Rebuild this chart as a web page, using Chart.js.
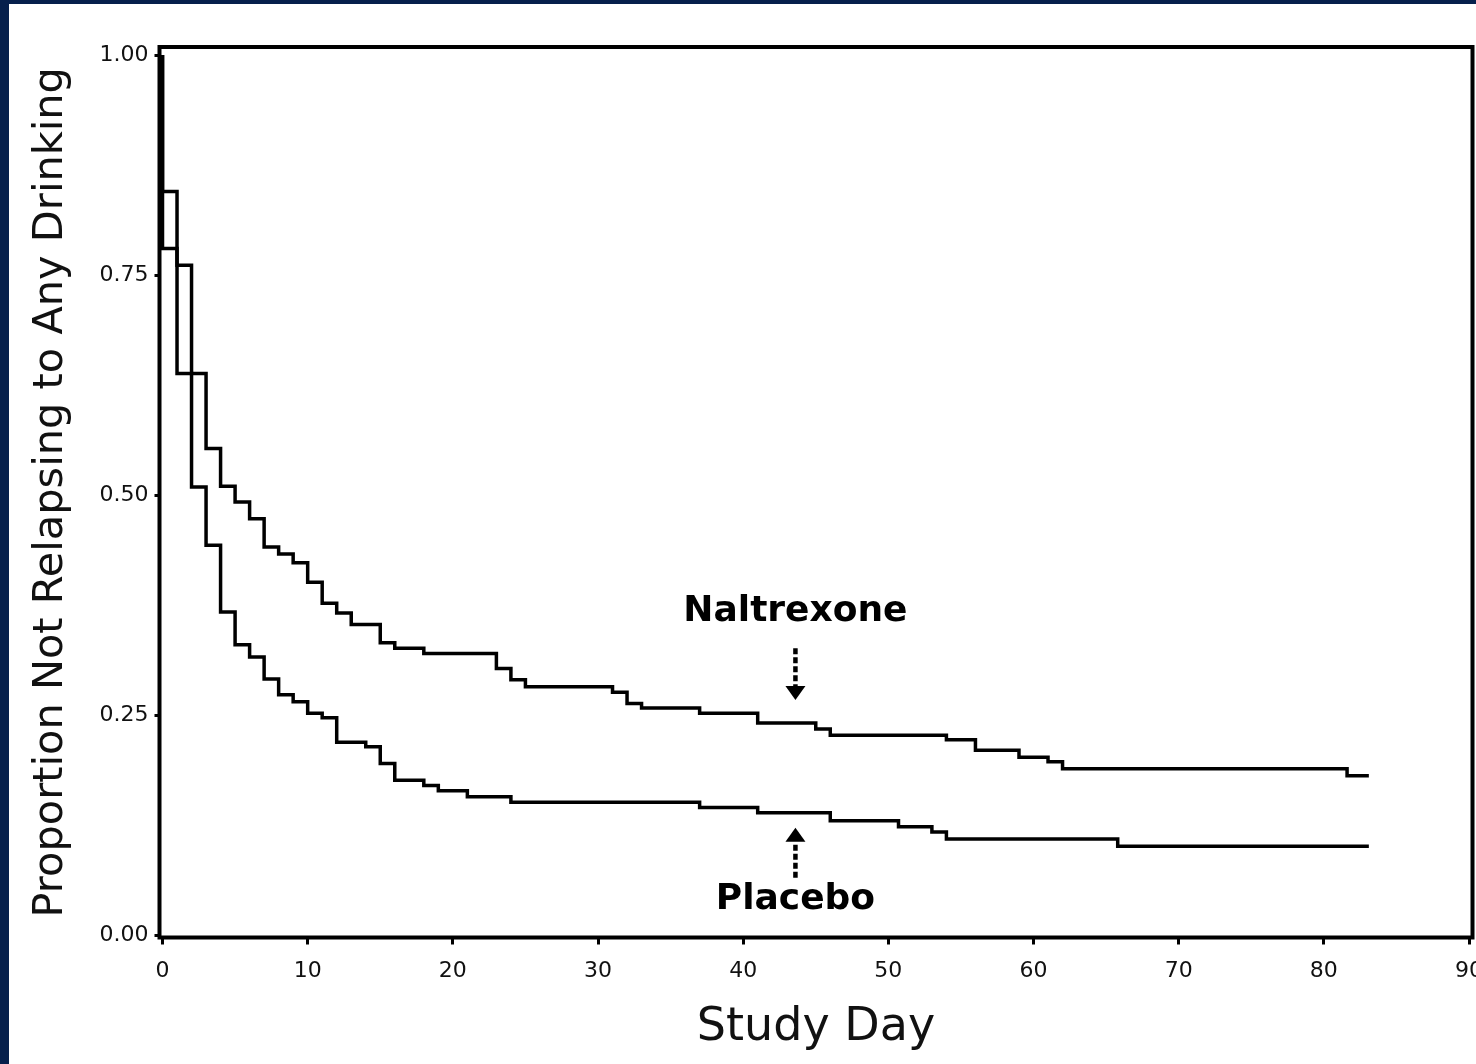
<!DOCTYPE html>
<html>
<head>
<meta charset="utf-8">
<title>Proportion Not Relapsing to Any Drinking</title>
<script src="https://cdn.jsdelivr.net/npm/chart.js@4/dist/chart.umd.min.js"></script>
<style>
  html, body { margin: 0; padding: 0; background: #fff; }
  .panel {
    position: absolute; left: 0; top: 0;
    width: 1476px; height: 1064px; box-sizing: border-box;
    border-left: 9px solid #06204c; border-top: 4px solid #06204c;
    background: #fff; overflow: hidden;
  }
  canvas { display: block; }
</style>
</head>
<body>
<div class="panel"><canvas id="kmChart" width="1467" height="1060"></canvas></div>
<script>
// Kaplan-Meier steps: study day of each drop and the proportion after it
const naltrexoneDays = [0, 0, 1, 2, 3, 4, 5, 6, 7, 8, 9, 10, 11, 12, 13, 15, 16, 18, 23, 24, 25, 31, 32, 33, 37, 41, 45, 46, 54, 56, 59, 61, 62, 81.6, 83.1];
const naltrexoneProp = [1.0, 0.845, 0.761, 0.638, 0.553, 0.510, 0.492, 0.473, 0.441, 0.433, 0.423, 0.401, 0.377, 0.366, 0.353, 0.332, 0.326, 0.320, 0.303, 0.290, 0.282, 0.276, 0.263, 0.258, 0.252, 0.241, 0.234, 0.227, 0.222, 0.210, 0.202, 0.197, 0.189, 0.181, 0.181];

const placeboDays = [0, 0, 1, 2, 3, 4, 5, 6, 7, 8, 9, 10, 11, 12, 14, 15, 16, 18, 19, 21, 24, 37, 41, 46, 50.7, 53, 54, 65.8, 83.1];
const placeboProp = [1.0, 0.78, 0.638, 0.509, 0.443, 0.367, 0.330, 0.316, 0.291, 0.273, 0.265, 0.252, 0.247, 0.219, 0.214, 0.195, 0.176, 0.170, 0.164, 0.157, 0.151, 0.145, 0.139, 0.130, 0.123, 0.117, 0.109, 0.101, 0.101];

const xTickValues = [0, 10, 20, 30, 40, 50, 60, 70, 80, 90];
const xTickLabels = ['0', '10', '20', '30', '40', '50', '60', '70', '80', '90'];
const yTickValues = [0, 0.25, 0.5, 0.75, 1];
const yTickLabels = ['0.00', '0.25', '0.50', '0.75', '1.00'];

// group labels with their dashed arrows
const calloutText = ['Naltrexone', 'Placebo'];
const calloutDay = [43.6, 43.6];
const calloutLabelAt = [0.367, 0.040];
const calloutTailAt = [0.326, 0.065];
const calloutTipAt = [0.267, 0.122];

const FONT = '"DejaVu Sans", Verdana, sans-serif';

const toPoints = (days, props) => days.map((d, i) => ({ x: d, y: props[i] }));

// black box round the plot area plus the two labelled arrows
const framePlugin = {
  id: 'frameAndCallouts',
  afterDatasetsDraw(chart) {
    const { ctx, chartArea: a, scales: { x, y } } = chart;
    ctx.save();
    ctx.strokeStyle = '#000';
    ctx.lineWidth = 4;
    ctx.strokeRect(a.left, a.top, a.right - a.left, a.bottom - a.top);

    ctx.fillStyle = '#000';
    ctx.textAlign = 'center';
    ctx.textBaseline = 'middle';
    ctx.font = 'bold 36px ' + FONT;
    calloutText.forEach((txt, i) => {
      const px = x.getPixelForValue(calloutDay[i]);
      ctx.fillText(txt, px, y.getPixelForValue(calloutLabelAt[i]));

      const y0 = y.getPixelForValue(calloutTailAt[i]);
      const y1 = y.getPixelForValue(calloutTipAt[i]);
      const dir = Math.sign(y1 - y0);
      const headLen = 14, headHalf = 10;
      ctx.lineWidth = 4.5;
      ctx.setLineDash([6, 3]);
      ctx.beginPath();
      ctx.moveTo(px, y0);
      ctx.lineTo(px, y1 - dir * headLen);
      ctx.stroke();
      ctx.setLineDash([]);
      ctx.beginPath();
      ctx.moveTo(px, y1);
      ctx.lineTo(px - headHalf, y1 - dir * headLen);
      ctx.lineTo(px + headHalf, y1 - dir * headLen);
      ctx.closePath();
      ctx.fill();
    });
    ctx.restore();
  }
};

const ctx = document.getElementById('kmChart').getContext('2d');
new Chart(ctx, {
  type: 'line',
  data: {
    datasets: [
      { label: 'Naltrexone', data: toPoints(naltrexoneDays, naltrexoneProp) },
      { label: 'Placebo', data: toPoints(placeboDays, placeboProp) }
    ]
  },
  options: {
    responsive: false,
    animation: false,
    devicePixelRatio: 1,
    layout: { padding: { left: 0, right: 3.5, top: 43, bottom: 0 } },
    elements: {
      line: { borderColor: '#000', borderWidth: 3.5, stepped: 'before', fill: false, tension: 0 },
      point: { radius: 0, hoverRadius: 0 }
    },
    plugins: { legend: { display: false }, tooltip: { enabled: false } },
    scales: {
      x: {
        type: 'linear',
        min: -0.207,
        max: 90.24,
        afterBuildTicks: s => { s.ticks = xTickValues.map(v => ({ value: v })); },
        afterFit: s => { s.height = 126.5; s.paddingLeft = 0; s.paddingRight = 0; },
        grid: { display: true, drawOnChartArea: false, drawTicks: true, tickLength: 7, tickWidth: 3, tickColor: '#000' },
        border: { display: false },
        ticks: {
          autoSkip: false, maxRotation: 0, padding: 14, color: '#111',
          font: { family: FONT, size: 22 },
          callback: (v, i) => xTickLabels[i]
        },
        title: {
          display: true, text: 'Study Day', color: '#111',
          font: { family: FONT, size: 46 },
          padding: { top: 0, bottom: 8 }
        }
      },
      y: {
        type: 'linear',
        min: -0.0028,
        max: 1.0091,
        afterBuildTicks: s => { s.ticks = yTickValues.map(v => ({ value: v })); },
        afterFit: s => { s.width = 150.5; s.paddingTop = 0; s.paddingBottom = 0; },
        grid: { display: true, drawOnChartArea: false, drawTicks: true, tickLength: 5, tickWidth: 3, tickColor: '#000' },
        border: { display: false },
        ticks: {
          autoSkip: false, padding: 6, color: '#111',
          font: { family: FONT, size: 22 },
          callback: (v, i) => yTickLabels[i]
        },
        title: {
          display: true, text: 'Proportion Not Relapsing to Any Drinking', color: '#111',
          font: { family: FONT, size: 41.5 },
          padding: { top: 17, bottom: 0 }
        }
      }
    }
  },
  plugins: [framePlugin]
});
</script>
</body>
</html>
